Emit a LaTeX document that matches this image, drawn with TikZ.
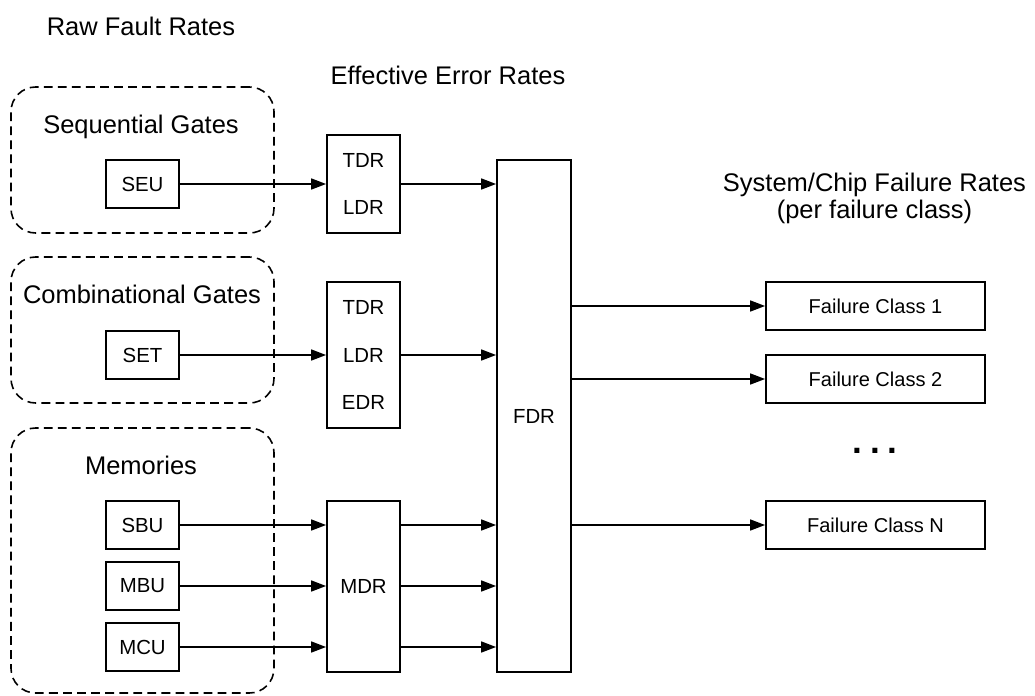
\documentclass[tikz,border=0pt]{standalone}
\usepackage{fontspec}
\setmainfont{Liberation Sans}
\usetikzlibrary{arrows.meta}

\begin{document}
\begin{tikzpicture}[
    group/.style={draw, dash pattern=on 5pt off 3pt, rounded corners=14pt, line width=0.9pt, minimum width=5.26cm},
    box/.style={draw, line width=1pt, minimum width=1.46cm, minimum height=0.96cm, inner sep=0pt, font=\fontsize{11.6pt}{13pt}\selectfont},
    rate/.style={box, align=center, font=\fontsize{11.6pt}{27.2pt}\selectfont},
    cls/.style={box, minimum width=4.38cm, font=\fontsize{11.4pt}{13pt}\selectfont},
    ttl/.style={anchor=base, align=center, font=\fontsize{14.5pt}{15.2pt}\selectfont},
    arrow/.style={-{Triangle[length=8.5pt, width=6.2pt]}, line width=1pt}
]
\useasboundingbox (0,0) rectangle (20.7,13.9);

% Dashed groups of raw fault sources
\node[group, minimum height=2.92cm] (seqgrp) at (2.85, 10.70) {};
\node[group, minimum height=2.92cm] (combgrp) at (2.85, 7.30) {};
\node[group, minimum height=5.30cm] (memgrp) at (2.85, 2.69) {};

% Column titles
\node[ttl] (rawlbl) at (2.82, 13.18) {Raw Fault Rates};
\node[ttl] (efflbl) at (8.96, 12.22) {Effective Error Rates};
\node[ttl, anchor=center] (syslbl) at (17.49, 9.93) {System/Chip Failure Rates\\(per failure class)};

% Group titles
\node[ttl] (seqlbl) at (2.82, 11.24) {Sequential Gates};
\node[ttl] (comblbl) at (2.84, 7.84) {Combinational Gates};
\node[ttl] (memlbl) at (2.82, 4.42) {Memories};

% Raw fault sources
\node[box] (seu) at (2.85, 10.22) {SEU};
\node[box] (set) at (2.85, 6.80) {SET};
\node[box] (sbu) at (2.85, 3.40) {SBU};
\node[box] (mbu) at (2.85, 2.18) {MBU};
\node[box] (mcu) at (2.85, 0.96) {MCU};

% Derating blocks
\node[rate, minimum height=1.96cm] (seqrate) at (7.27, 10.22) {TDR\\LDR};
\node[rate, minimum height=2.92cm] (combrate) at (7.27, 6.80) {TDR\\LDR\\EDR};
\node[box, minimum height=3.42cm] (mdr) at (7.27, 2.17) {MDR};
\node[box, minimum width=1.48cm, minimum height=10.24cm] (fdr) at (10.68, 5.58) {FDR};

% Failure classes
\node[cls] (fc1) at (17.51, 7.78) {Failure Class 1};
\node[cls] (fc2) at (17.51, 6.32) {Failure Class 2};
\node[font=\fontsize{20pt}{20pt}\selectfont\bfseries] (dots) at (17.50, 4.88) {.\hspace{0.22em}.\hspace{0.22em}.};
\node[cls] (fcn) at (17.51, 3.40) {Failure Class N};

% Arrows from raw faults to derating
\draw[arrow] (seu) -- (seqrate);
\draw[arrow] (set) -- (combrate);
\draw[arrow] (sbu) -- (sbu -| mdr.west);
\draw[arrow] (mbu) -- (mbu -| mdr.west);
\draw[arrow] (mcu) -- (mcu -| mdr.west);

% Arrows into FDR
\draw[arrow] (seqrate) -- (seqrate -| fdr.west);
\draw[arrow] (combrate) -- (combrate -| fdr.west);
\draw[arrow] (sbu -| mdr.east) -- (sbu -| fdr.west);
\draw[arrow] (mbu -| mdr.east) -- (mbu -| fdr.west);
\draw[arrow] (mcu -| mdr.east) -- (mcu -| fdr.west);

% Arrows to failure classes
\draw[arrow] (fc1 -| fdr.east) -- (fc1);
\draw[arrow] (fc2 -| fdr.east) -- (fc2);
\draw[arrow] (fcn -| fdr.east) -- (fcn);

\end{tikzpicture}
\end{document}
